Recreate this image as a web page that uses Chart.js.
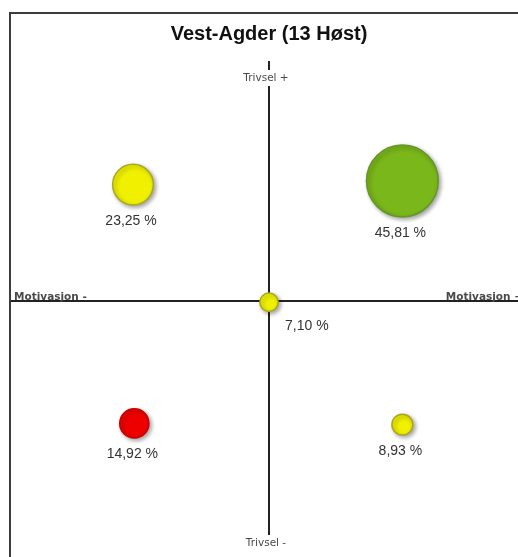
<!DOCTYPE html>
<html>
<head>
<meta charset="utf-8">
<script src="https://cdn.jsdelivr.net/npm/chart.js@4.4.1/dist/chart.umd.min.js"></script>
<style>
  html, body { margin: 0; padding: 0; background: #fff; overflow: hidden; width: 518px; height: 557px; }
  #wrap { position: absolute; left: 0; top: 0; width: 540px; height: 557px; }
  #frame { position: absolute; left: 9px; top: 12px; width: 600px; height: 600px; border: 2px solid #3c3c3c; pointer-events: none; }
</style>
</head>
<body>
<div id="wrap"><canvas id="chart" width="540" height="557"></canvas></div>
<div id="frame"></div>
<script>
const TITLE = 'Vest-Agder (13 Høst)';
const axisLabels = ['Trivsel +', 'Trivsel -', 'Motivasjon -', 'Motivasjon +'];

// andel elever per kvadrant (%), plassert på motivasjon (x) / trivsel (y)
const shares = [23.25, 45.81, 14.92, 8.93, 7.10];
const motivasjon = [-0.525, 0.515, -0.52, 0.515, 0];
const trivsel = [0.485, 0.5, -0.51, -0.515, -0.005];

const FILL = ['#f0f000', '#7ab71a', '#ee0000', '#f0f000', '#f0f000'];
const EDGE = ['#a8a820', '#66962a', '#c80000', '#a8a820', '#a8a820'];

// bubble size scale (px) from share
const sizeFor = (v) => 4.3 + 0.69 * v;
const fmt = (v) => v.toFixed(2).replace('.', ',') + ' %';

const quadrantAxes = {
  id: 'quadrantAxes',
  beforeDatasetsDraw(chart) {
    const { ctx, chartArea, scales } = chart;
    const cx = Math.round(scales.x.getPixelForValue(0));
    const cy = Math.round(scales.y.getPixelForValue(0));
    ctx.save();
    ctx.strokeStyle = '#222';
    ctx.lineWidth = 2;
    ctx.beginPath();
    ctx.moveTo(chartArea.left, cy);
    ctx.lineTo(chartArea.right, cy);
    ctx.moveTo(cx, chartArea.top);
    ctx.lineTo(cx, chartArea.bottom);
    ctx.stroke();

    ctx.font = '10.5px "DejaVu Sans", sans-serif';
    ctx.textAlign = 'center';
    ctx.textBaseline = 'middle';
    [[axisLabels[0], chartArea.top + 17], [axisLabels[1], chartArea.bottom + 2]].forEach(([txt, y]) => {
      const w = ctx.measureText(txt).width;
      ctx.fillStyle = '#fff';
      ctx.fillRect(cx - w / 2 - 4, y - 8, w + 4, 16);
      ctx.fillStyle = '#4a4a4a';
      ctx.fillText(txt, cx - 3, y);
    });

    ctx.font = 'bold 10.5px "DejaVu Sans", sans-serif';
    ctx.fillStyle = '#4a4a4a';
    ctx.textBaseline = 'alphabetic';
    ctx.textAlign = 'left';
    ctx.fillText(axisLabels[2], chartArea.left + 4, cy - 1);
    ctx.textAlign = 'right';
    ctx.fillText(axisLabels[3], chartArea.right - 5, cy - 1);
    ctx.restore();
  }
};

const bubbleShadow = {
  id: 'bubbleShadow',
  beforeDatasetDraw(chart) {
    const ctx = chart.ctx;
    ctx.save();
    ctx.shadowColor = 'rgba(0,0,0,0.35)';
    ctx.shadowBlur = 4;
    ctx.shadowOffsetX = 2;
    ctx.shadowOffsetY = 2;
  },
  afterDatasetDraw(chart) {
    chart.ctx.restore();
  }
};

const valueLabels = {
  id: 'valueLabels',
  afterDatasetsDraw(chart) {
    const { ctx } = chart;
    const meta = chart.getDatasetMeta(0);
    ctx.save();
    ctx.font = '14px "Liberation Sans", Arial, sans-serif';
    ctx.fillStyle = '#333';
    ctx.textBaseline = 'middle';
    meta.data.forEach((pt, i) => {
      const r = sizeFor(shares[i]);
      if (motivasjon[i] === 0) {
        ctx.textAlign = 'left';
        ctx.fillText(fmt(shares[i]), pt.x + 16, pt.y + 24);
      } else {
        ctx.textAlign = 'center';
        ctx.fillText(fmt(shares[i]), pt.x - 2, pt.y + r + 16);
      }
    });
    ctx.restore();
  }
};

new Chart(document.getElementById('chart'), {
  type: 'bubble',
  data: {
    datasets: [{
      data: shares.map((v, i) => ({ x: motivasjon[i], y: trivsel[i], r: sizeFor(v) })),
      backgroundColor: FILL,
      borderColor: EDGE,
      borderWidth: 1.5,
      clip: false
    }]
  },
  options: {
    responsive: false,
    animation: false,
    events: [],
    layout: { autoPadding: false, padding: { left: 10, right: 12, top: 0, bottom: 16 } },
    scales: {
      x: { type: 'linear', min: -1, max: 1, display: false },
      y: { type: 'linear', min: -1, max: 1, display: false }
    },
    plugins: {
      legend: { display: false },
      tooltip: { enabled: false },
      title: {
        display: true,
        text: TITLE,
        color: '#111',
        font: { family: '"Liberation Sans", Arial, sans-serif', size: 20, weight: 'bold' },
        padding: { top: 22, bottom: 15 }
      }
    }
  },
  plugins: [quadrantAxes, bubbleShadow, valueLabels]
});
</script>
</body>
</html>
